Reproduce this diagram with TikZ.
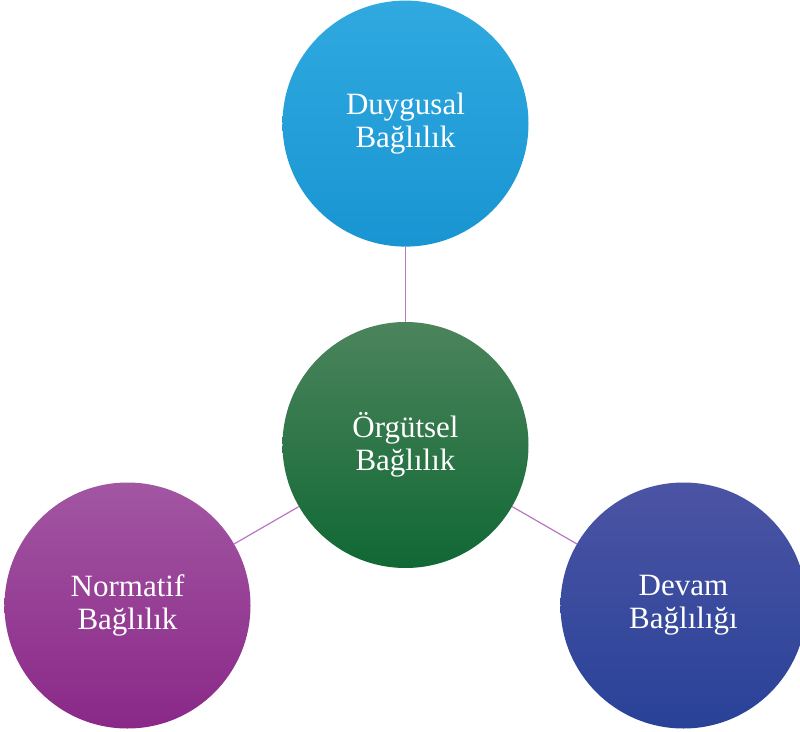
\documentclass[tikz,border=0pt]{standalone}
\usepackage{fontspec}
\setmainfont{Liberation Serif}
\usepackage{tikz}
\usetikzlibrary{shapes,positioning,calc}

\definecolor{blueTop}{RGB}{48,169,224}
\definecolor{blueBot}{RGB}{24,149,210}
\definecolor{greenTop}{RGB}{76,132,92}
\definecolor{greenBot}{RGB}{16,104,52}
\definecolor{purpleTop}{RGB}{162,86,162}
\definecolor{purpleBot}{RGB}{138,40,136}
\definecolor{navyTop}{RGB}{76,84,164}
\definecolor{navyBot}{RGB}{40,66,152}
\definecolor{linkCol}{RGB}{188,116,198}

\begin{document}
\begin{tikzpicture}[
  bubble/.style={circle, minimum size=246pt, inner sep=0pt, align=center,
    text=white, font=\fontsize{31}{33}\selectfont},
  link/.style={draw=linkCol, line width=1.2pt}]
\useasboundingbox (-405.5pt,445pt) rectangle (394.5pt,-286pt);
\node[bubble, top color=greenTop, bottom color=greenBot] at (0,0) (orgutsel) {Örgütsel\\Bağlılık};
\node[bubble, top color=blueTop, bottom color=blueBot, above=75pt of orgutsel] (duygusal) {Duygusal\\Bağlılık};
\node[bubble, top color=purpleTop, bottom color=purpleBot] at (210:321pt) (normatif) {Normatif\\Bağlılık};
\node[bubble, top color=navyTop, bottom color=navyBot] at (330:321pt) (devam) {Devam\\Bağlılığı};
\draw[link] (orgutsel) -- (duygusal);
\draw[link] (orgutsel) -- (normatif);
\draw[link] (orgutsel) -- (devam);
\end{tikzpicture}
\end{document}
